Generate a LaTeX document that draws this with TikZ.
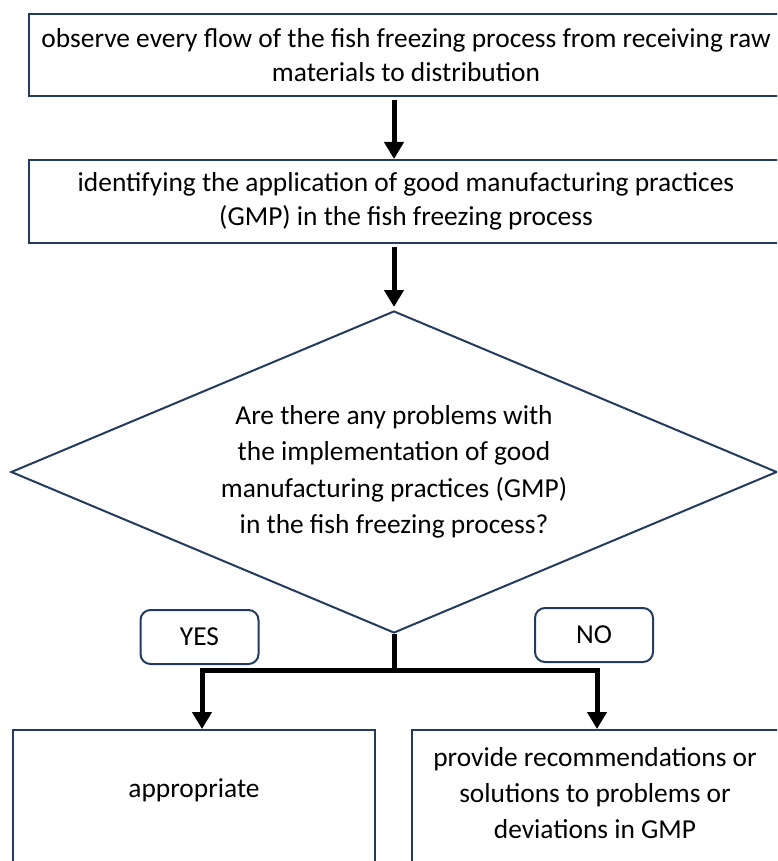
\documentclass[tikz,border=0pt]{standalone}
\usepackage{fontspec}
\setmainfont{Carlito}
\usetikzlibrary{arrows.meta,positioning,shapes.geometric}
\definecolor{gmpnavy}{HTML}{243B60}
\tikzset{
    %Define standard arrow tip
    >={Triangle[width=9.5pt,length=8.5pt]},
    %Define style for boxes
    stepbox/.style={
             rectangle,
             draw=gmpnavy, line width=1pt,
             inner sep=0pt, align=center,
             font=\fontsize{13.7}{17}\selectfont},
    decisionnode/.style={
             diamond, aspect=2.38,
             draw=gmpnavy, line width=1pt,
             inner sep=0pt, align=center,
             font=\fontsize{13.7}{18.2}\selectfont},
    answerbox/.style={
             rectangle, rounded corners=5pt,
             draw=gmpnavy, line width=1pt,
             minimum width=59pt, minimum height=27pt,
             font=\fontsize{13.7}{17}\selectfont},
    endtext/.style={
             inner sep=0pt, align=center,
             font=\fontsize{13.7}{18}\selectfont},
    % Define arrow style
    gmpline/.style={
            line width=2.5pt},
    gmparrow/.style={
            ->,
            line width=2.5pt}
}
\begin{document}
\begin{tikzpicture}[x=0.5pt, y=-0.5pt]
 \useasboundingbox (0,0) rectangle (777,861);
 \clip (0,0) rectangle (777,861);
 \node[stepbox, minimum width=377pt, minimum height=41pt] (observe) at (406,55)
   {observe every flow of the fish freezing process from receiving raw\\materials to distribution};
 \node[stepbox, minimum width=377pt, minimum height=41.5pt] (identify) at (406,201.5)
   {identifying the application of good manufacturing practices\\(GMP) in the fish freezing process};
 \node[decisionnode, minimum width=383pt, minimum height=161pt] (problem) at (394,472)
   {Are there any problems with\\the implementation of good\\manufacturing practices (GMP)\\in the fish freezing process?};
 \node[answerbox] (yes) at (199.5,637) {YES};
 \node[answerbox] (no) at (594,635) {NO};
 \node[stepbox, minimum width=181pt, minimum height=75pt] (appropriate) at (194,805) {};
 \node[stepbox, minimum width=186pt, minimum height=75pt] (recommend) at (598,805) {};
 \node[endtext] (appropriatetext) at (194,790) {appropriate};
 \node[endtext] (recommendtext) at (595,793)
   {provide recommendations or\\solutions to problems or\\deviations in GMP};
 \coordinate (split) at (394,670);
 \coordinate (yesturn) at (202,670);
 \coordinate (noturn) at (597,670);
 %\draw[gmparrow] (observe) -- (identify);
 \draw[gmparrow, shorten <=1.5pt] (observe.south -| problem.north) -- (identify.north -| problem.north);
 \draw[gmparrow, shorten <=1.5pt, shorten >=1.5pt] (identify.south -| problem.north) -- (problem.north);
 \draw[gmpline] (problem.south) -- (split);
 \draw[gmparrow] (split) -- (yesturn) -- (yesturn |- appropriate.north);
 \draw[gmparrow] (split) -- (noturn) -- (noturn |- recommend.north);
\end{tikzpicture}
\end{document}
